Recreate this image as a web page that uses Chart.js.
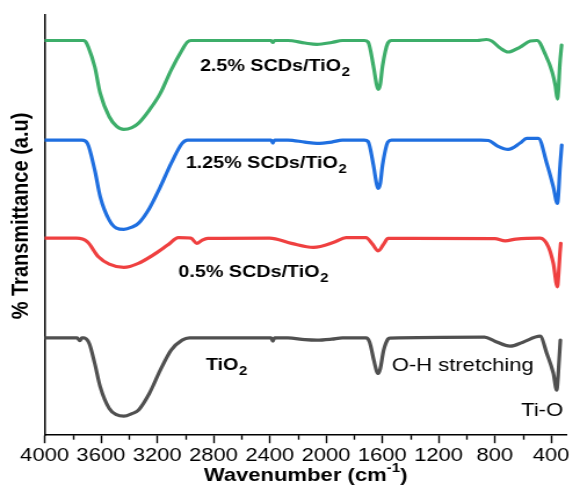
<!DOCTYPE html>
<html>
<head>
<meta charset="utf-8">
<script src="https://cdn.jsdelivr.net/npm/chart.js@4/dist/chart.umd.min.js"></script>
<style>
  html, body { margin: 0; padding: 0; background: #fff; overflow: hidden; }
  #wrap { width: 492px; height: 497px; transform: scaleX(1.16); transform-origin: 0 0; }
</style>
</head>
<body>
<div id="wrap"><canvas id="ftir"></canvas></div>
<script>
// FTIR spectra, [wavenumber (cm-1), transmittance (a.u., vertically offset)]
const tio2 = [[4000,97.3],[3770,97.3],[3750,94.5],[3735,97.3],[3722,97.3],[3683,91.7],[3644,71.7],[3605,48.3],[3541,26.7],[3490,20.5],[3437,19],[3380,21.5],[3334,25],[3256,41.7],[3178,65],[3101,85],[3023,95],[2971,97.3],[2390,97.3],[2378,94],[2366,97.3],[2272,97.3],[2150,95.5],[2065,95],[1960,96],[1883,97.3],[1716,97.3],[1690,93],[1660,75],[1640,64],[1629,61.7],[1615,66],[1590,85],[1560,96],[1546,97],[873,98],[800,94],[691,89],[600,93],[478,99],[431,82],[384,62],[360,45],[352,55],[343,75],[334,95]];
const scd05 = [[4000,197],[3774,197],[3696,193.3],[3618,178.3],[3541,171],[3437,167.7],[3334,171.7],[3230,180],[3126,190],[3049,197.5],[2960,197],[2919,191.7],[2880,195],[2841,196.7],[2401,197],[2246,191.7],[2090,187.7],[1935,193.3],[1858,197.5],[1716,197.5],[1670,191],[1629,184.3],[1590,191],[1559,196.7],[800,196.5],[726,194.3],[650,196],[478,197],[419,188.3],[384,171.7],[355,148.3],[347,160],[338,180],[331,191.7]];
const scd125 = [[4000,295],[3735,295],[3696,291.7],[3644,265],[3605,238.3],[3541,215],[3490,207],[3437,205.7],[3380,208],[3334,211.7],[3256,226.7],[3178,248.3],[3101,271.7],[3023,291.7],[2984,295],[2390,295],[2378,292],[2366,295],[2272,295],[2150,293],[2065,291.7],[1960,293],[1883,295],[1728,295],[1701,293.5],[1663,270],[1640,251],[1629,246.7],[1615,251],[1598,270],[1560,293],[1533,295],[900,295],[845,294.5],[780,289],[705,285.7],[620,292],[573,296.7],[490,296.7],[431,272],[384,248.3],[355,231.7],[348,240],[338,265],[324,290]];
const scd25 = [[4000,394.5],[3722,394.5],[3709,393.3],[3690,388],[3644,368.3],[3605,341.7],[3541,318.3],[3490,309],[3437,305.7],[3380,307.5],[3334,311.7],[3256,325],[3178,341.7],[3101,365],[3023,385],[2985,393],[2960,394.5],[2390,394.5],[2378,392.5],[2366,394.5],[2272,394.5],[2150,392],[2065,390.7],[1960,392.5],[1883,394.5],[1728,394.5],[1701,393],[1663,369],[1640,350],[1629,345.7],[1615,350],[1598,369],[1560,392],[1533,394.5],[925,394.5],[860,395.5],[822,394],[762,387],[705,383],[620,388],[548,394],[500,394.5],[439,380],[392,363],[369,349],[355,336],[348,345],[338,370],[325,390]];

const seriesNames = ['TiO2', '0.5% SCDs/TiO2', '1.25% SCDs/TiO2', '2.5% SCDs/TiO2'];
const seriesColors = ['#505050', '#ef4040', '#1f6fe0', '#3dae6a'];

const tickValues = [4000, 3600, 3200, 2800, 2400, 2000, 1600, 1200, 800, 400];
const tickLabels = ['4000', '3600', '3200', '2800', '2400', '2000', '1600', '1200', '800', '400'];
const minorTickValues = [3800, 3400, 3000, 2600, 2200, 1800, 1400, 1000, 600];

// In-plot text: main text, subscript, weight, anchor [wavenumber, value] (left / baseline)
const plotLabels = [
  { text: '2.5% SCDs/TiO', sub: '2', bold: true, size: 17, at: [2896, 364] },
  { text: '1.25% SCDs/TiO', sub: '2', bold: true, size: 17, at: [2997, 267] },
  { text: '0.5% SCDs/TiO', sub: '2', bold: true, size: 17, at: [3049, 158] },
  { text: 'TiO', sub: '2', bold: true, size: 17, at: [2854, 65] },
  { text: 'O-H stretching', sub: '', bold: false, size: 19, at: [1533, 64] },
  { text: 'Ti-O', sub: '', bold: false, size: 19, at: [613, 19] }
];

const FONT = "'Liberation Sans', Arial, sans-serif";

const datasets = [tio2, scd05, scd125, scd25].map((s, i) => ({
  label: seriesNames[i],
  data: s.map(([x, y]) => ({ x, y })),
  borderColor: seriesColors[i],
  borderWidth: 3.2,
  pointRadius: 0,
  fill: false,
  cubicInterpolationMode: 'monotone',
  borderJoinStyle: 'round',
  borderCapStyle: 'round'
}));

const decorations = {
  id: 'decorations',
  afterDraw(chart) {
    const { ctx, chartArea, scales: { x, y } } = chart;
    ctx.save();
    // minor ticks
    ctx.strokeStyle = '#000';
    ctx.lineWidth = 1.4;
    minorTickValues.forEach(v => {
      const px = Math.round(x.getPixelForValue(v)) + 0.5;
      ctx.beginPath();
      ctx.moveTo(px, chartArea.bottom);
      ctx.lineTo(px, chartArea.bottom + 4.5);
      ctx.stroke();
    });
    // labels inside the plot
    ctx.fillStyle = '#000';
    ctx.textBaseline = 'alphabetic';
    ctx.textAlign = 'left';
    plotLabels.forEach(l => {
      const px = x.getPixelForValue(l.at[0]);
      const py = y.getPixelForValue(l.at[1]);
      const w = l.bold ? 'bold ' : '';
      ctx.font = w + l.size + 'px ' + FONT;
      ctx.fillText(l.text, px, py);
      if (l.sub) {
        const tw = ctx.measureText(l.text).width;
        ctx.font = w + Math.round(l.size * 0.75) + 'px ' + FONT;
        ctx.fillText(l.sub, px + tw + 0.5, py + 5);
      }
    });
    // x axis title with superscript
    const midX = (chartArea.left + chartArea.right) / 2;
    const baseY = 481;
    const partA = 'Wavenumber (cm', sup = '-1', partB = ')';
    ctx.font = 'bold 19px ' + FONT;
    const wA = ctx.measureText(partA).width, wB = ctx.measureText(partB).width;
    ctx.font = 'bold 13px ' + FONT;
    const wS = ctx.measureText(sup).width;
    let cx = midX - (wA + wS + wB) / 2;
    ctx.font = 'bold 19px ' + FONT;
    ctx.fillText(partA, cx, baseY);
    cx += wA;
    ctx.font = 'bold 13px ' + FONT;
    ctx.fillText(sup, cx, baseY - 9);
    cx += wS;
    ctx.font = 'bold 19px ' + FONT;
    ctx.fillText(partB, cx, baseY);
    // y axis title
    ctx.translate(18, 216);
    ctx.rotate(-Math.PI / 2);
    ctx.textAlign = 'center';
    ctx.textBaseline = 'middle';
    ctx.font = 'bold 20px ' + FONT;
    ctx.fillText('% Transmittance (a.u)', 0, 0);
    ctx.restore();
  }
};

new Chart(document.getElementById('ftir'), {
  type: 'line',
  data: { datasets },
  options: {
    responsive: true,
    maintainAspectRatio: false,
    animation: false,
    events: [],
    layout: { padding: { left: 38.5, right: 3.2, top: 15, bottom: 29 } },
    plugins: { legend: { display: false }, tooltip: { enabled: false }, title: { display: false } },
    scales: {
      x: {
        type: 'linear',
        reverse: true,
        min: 290,
        max: 4000,
        afterBuildTicks: (scale) => { scale.ticks = tickValues.map(v => ({ value: v })); },
        ticks: {
          callback: (v, i) => tickLabels[i],
          autoSkip: false,
          maxRotation: 0,
          padding: 1,
          color: '#000',
          font: { family: FONT, size: 19 }
        },
        grid: { drawOnChartArea: false, drawTicks: true, tickLength: 8, color: '#000', tickWidth: 1.4 },
        border: { display: true, color: '#000', width: 1.5 }
      },
      y: {
        type: 'linear',
        min: 0,
        max: 420,
        ticks: { display: false },
        grid: { display: false, drawTicks: false },
        border: { display: true, color: '#000', width: 1.5 }
      }
    }
  },
  plugins: [decorations]
});
</script>
</body>
</html>
